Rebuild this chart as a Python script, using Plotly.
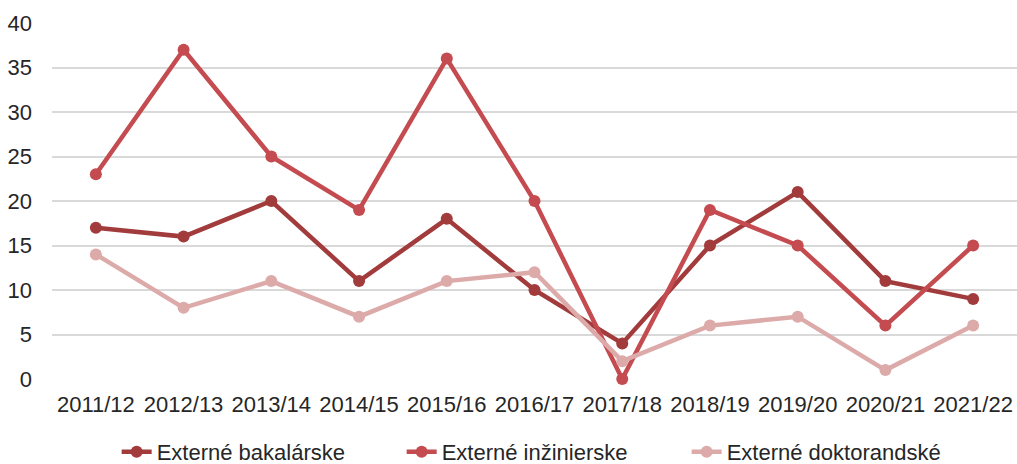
import plotly.graph_objects as go

years = ["2011/12", "2012/13", "2013/14", "2014/15", "2015/16", "2016/17",
         "2017/18", "2018/19", "2019/20", "2020/21", "2021/22"]
bakalarske = [17, 16, 20, 11, 18, 10, 4, 15, 21, 11, 9]
inzinierske = [23, 37, 25, 19, 36, 20, 0, 19, 15, 6, 15]
doktorandske = [14, 8, 11, 7, 11, 12, 2, 6, 7, 1, 6]

series = [
    ("Externé bakalárske", bakalarske, "#A23B3B"),
    ("Externé inžinierske", inzinierske, "#C44B4F"),
    ("Externé doktorandské", doktorandske, "#DDAAAA"),
]

fig = go.Figure()
for name, vals, col in series:
    fig.add_trace(go.Scatter(
        x=years, y=vals, name=name, mode="lines+markers",
        line=dict(color=col, width=4.5),
        marker=dict(color=col, size=12),
        cliponaxis=False,
    ))

font = "Liberation Sans, Arial, sans-serif"
fig.update_layout(
    width=1017, height=464,
    margin=dict(l=52, r=0, t=23, b=85, autoexpand=False),
    plot_bgcolor="white", paper_bgcolor="white",
    font=dict(family=font, size=22, color="#262626"),
    showlegend=True,
    legend=dict(orientation="h", x=0.067, xanchor="left",
                y=-0.205, yanchor="middle", entrywidth=240,
                font=dict(size=22), tracegroupgap=0),
    xaxis=dict(range=[-0.5, 10.5], showgrid=False, zeroline=False,
               showline=False, ticks="", ticklabelstandoff=10,
               automargin=False, tickfont=dict(size=22)),
    yaxis=dict(range=[0, 40], dtick=5, showgrid=True, gridcolor="#D9D9D9",
               gridwidth=1.5, zeroline=False, showline=False, ticks="",
               ticklabelstandoff=19, automargin=False,
               tickfont=dict(size=22)),
)

fig.write_html("out.html", config={"displayModeBar": False},
               post_script="document.body.style.margin='0';document.body.style.overflow='hidden';")
